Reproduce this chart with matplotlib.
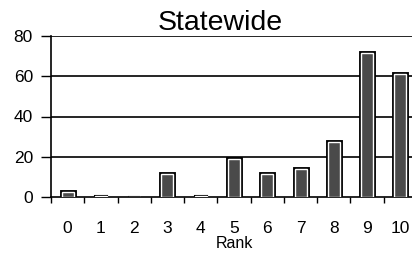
import matplotlib.pyplot as plt
import matplotlib.patheffects as pe
import numpy as np

plt.rcParams['font.family'] = ['Liberation Sans', 'DejaVu Sans']

# Rank categories and counts
ranks = [0, 1, 2, 3, 4, 5, 6, 7, 8, 9, 10]
counts = [2.5, 0.5, 0.2, 11.5, 0.3, 19, 11.5, 14, 27.5, 71.5, 61]
y_ticks = [0, 20, 40, 60, 80]

fig = plt.figure(figsize=(4.12, 2.60), dpi=100)
ax = fig.add_axes([51 / 412, 63 / 260, 366 / 412, 161 / 260])

x = np.arange(len(ranks))
bars = ax.bar(x, counts, width=0.36, facecolor='#4a4a4a', edgecolor='white',
              linewidth=1.0, zorder=3)
for b, c in zip(bars, counts):
    lw = 3.5 if c > 2 else 1.5
    b.set_path_effects([pe.Stroke(linewidth=lw, foreground='black'), pe.Normal()])

ax.set_xlim(-0.5, 10.5)
ax.set_ylim(0, 80)
ax.set_yticks(y_ticks)
ax.tick_params(axis='y', direction='out', length=7, width=1, labelsize=12.5, pad=6)
ax.set_xticks(x)
ax.set_xticklabels([str(r) for r in ranks], fontsize=12.5)
ax.tick_params(axis='x', length=0, pad=17)
ax.set_xticks(np.arange(-0.5, 10.6, 1), minor=True)
ax.tick_params(axis='x', which='minor', direction='out', length=4, width=1)

for v in y_ticks[1:]:
    ax.axhline(v, color='black', linewidth=1.2, zorder=1)

for s in ['top', 'right']:
    ax.spines[s].set_visible(False)
ax.spines['left'].set_linewidth(1.2)
ax.spines['bottom'].set_linewidth(1.2)

ax.set_xlabel('Rank', fontsize=11.5, labelpad=0)
ax.set_title('Statewide', fontsize=20.5, pad=1, x=0.462)

fig.savefig('out.png', dpi=100)
